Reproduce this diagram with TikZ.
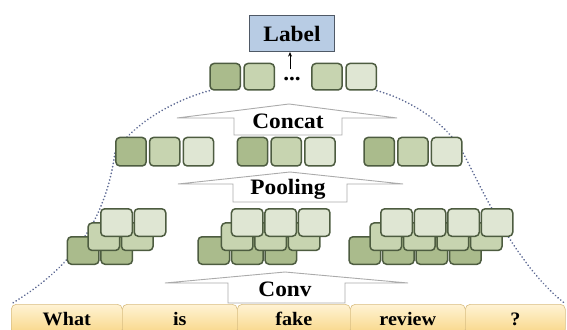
\documentclass[tikz,border=0pt]{standalone}
\usepackage{fontspec}
\setmainfont{Liberation Serif}[FakeStretch=1.06]
\usetikzlibrary{arrows.meta}
\pgfdeclarelayer{background}
\pgfsetlayers{background,main}
\definecolor{gdark}{HTML}{AABB8C}
\definecolor{gmid}{HTML}{C7D4B0}
\definecolor{glight}{HTML}{DFE6D3}
\definecolor{gborder}{HTML}{4D5C40}
\definecolor{lblue}{HTML}{B8CCE4}
\definecolor{lborder}{HTML}{4F5966}
\definecolor{dotc}{HTML}{5E6A94}
\definecolor{arrowc}{HTML}{ABABAB}
\definecolor{wtop}{HTML}{FFF3D4}
\definecolor{wbot}{HTML}{F8D686}
\definecolor{wborder}{HTML}{D9BE82}
\begin{document}
\begin{tikzpicture}[x=1pt,y=-1pt,
  gbox/.style={draw=gborder, line width=1.5pt, rounded corners=4pt, minimum width=31.5pt, minimum height=27.5pt, inner sep=0pt},
  hbox/.style={gbox, minimum width=30.3pt, minimum height=28.5pt},
  tbox/.style={gbox, minimum width=30.3pt, minimum height=26.5pt},
  lbl/.style={draw=lborder, fill=lblue, line width=1.2pt, minimum width=85pt, minimum height=36pt, inner sep=0pt},
  bigfont/.style={font=\bfseries\fontsize{22}{22}\selectfont},
  bigarrow/.style={draw=arrowc, fill=white, line width=0.9pt, line join=miter},
  dotline/.style={draw=dotc, line width=1.9pt, line cap=round, dash pattern=on 0.01pt off 3.4pt},
  wcell/.style={draw=wborder, line width=0.6pt, top color=wtop, bottom color=wbot, rounded corners=5pt, anchor=north west, minimum height=30pt, inner sep=0pt, text height=12pt, text depth=0pt, font=\bfseries\fontsize{19}{19}\selectfont},
  atext/.style={bigfont, anchor=base, inner sep=0pt}]
\useasboundingbox (0,0) rectangle (567,329);
\clip (0,0) rectangle (567,329);

% word cells
\node[wcell, minimum width=111pt] (w1) at (11,304) {What};
\node[wcell, minimum width=115pt] (w2) at (122,304) {is};
\node[wcell, minimum width=113pt] (w3) at (237,304) {fake};
\node[wcell, minimum width=115pt] (w4) at (350,304) {review};
\node[wcell, minimum width=100pt] (w5) at (465,304) {?};

% big hollow arrows
\draw[bigarrow] (234,135) -- (234,118) -- (177,118) -- (289,104) -- (397,118) -- (342,118) -- (342,135) -- cycle;
\draw[bigarrow] (233,202) -- (233,184) -- (178,184) -- (290,172) -- (403,184) -- (347,184) -- (347,202) -- cycle;
\draw[bigarrow] (228,303) -- (228,283) -- (165,283) -- (285,272) -- (408,283) -- (345,283) -- (345,303) -- cycle;
\node[atext] (tconcat) at (288,128.3) {Concat};
\node[atext] (tpool) at (288,194) {Pooling};
\node[atext] (tconv) at (285,296) {Conv};

% label
\node[lbl] (label) at (292,33.5) {};
\node[bigfont, anchor=base, inner sep=0pt] (labeltext) at (292,41.7) {Label};

% top row
\node[tbox, fill=gdark] (tb1) at (225.2,76.7) {};
\node[tbox, fill=gmid] (tb2) at (259.2,76.7) {};
\node[tbox, fill=gmid] (tb3) at (327,76.7) {};
\node[tbox, fill=glight] (tb4) at (361.2,76.7) {};
\node[font=\bfseries\fontsize{22}{22}\selectfont, anchor=base, inner sep=0pt] (dots) at (292,81) {...};
\coordinate (arst) at (290,69);
\draw[-{Stealth[length=4.5pt,width=4pt]}, line width=1pt] (arst) -- (arst |- label.south);

% concat row
\node[hbox, fill=gdark] (cc1) at (131,151.7) {};
\node[hbox, fill=gmid] (cc2) at (164.7,151.7) {};
\node[hbox, fill=glight] (cc3) at (198.4,151.7) {};
\node[hbox, fill=gdark] (cc4) at (252.5,151.7) {};
\node[hbox, fill=gmid] (cc5) at (286.2,151.7) {};
\node[hbox, fill=glight] (cc6) at (319.9,151.7) {};
\node[hbox, fill=gdark] (cc7) at (379.2,151.7) {};
\node[hbox, fill=gmid] (cc8) at (412.9,151.7) {};
\node[hbox, fill=glight] (cc9) at (446.6,151.7) {};

% conv feature maps
\foreach \g/\n/\xb/\xm/\xt in {1/2/66.7/87.3/100, 2/3/197.3/220.7/230.7, 3/4/348.3/369.3/380} {
  \foreach \i in {1,...,\n} {
    \node[gbox, fill=gdark] (cv\g-b\i) at ({\xb+16.5+(\i-1)*33.5},250.5) {};
  }
  \foreach \i in {1,...,\n} {
    \node[gbox, fill=gmid] (cv\g-m\i) at ({\xm+16.5+(\i-1)*33.5},236.7) {};
  }
  \foreach \i in {1,...,\n} {
    \node[gbox, fill=glight] (cv\g-t\i) at ({\xt+16.5+(\i-1)*33.5},222.5) {};
  }
}

% dotted outlines behind everything
\begin{pgfonlayer}{background}
\draw[dotline] (tb1.south west) .. controls (175,100) and (135,122) .. (cc1.west)
  .. controls (108,205) and (85,260) .. (w1.north west);
\draw[dotline] (tb4.south east) .. controls (410,100) and (445,122) .. (cc9.east)
  .. controls (480,185) and (515,265) .. (w5.north east);
\end{pgfonlayer}
\end{tikzpicture}
\end{document}
